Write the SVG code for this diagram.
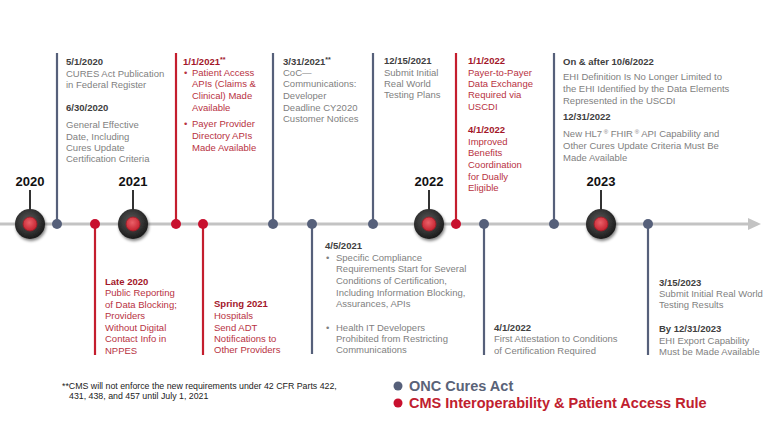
<svg xmlns="http://www.w3.org/2000/svg" width="777" height="437" viewBox="0 0 777 437">
<defs>
<radialGradient id="yg" cx="45%" cy="40%" r="60%">
<stop offset="0" stop-color="#5a5a5a"/>
<stop offset="0.7" stop-color="#2e2e2e"/>
<stop offset="1" stop-color="#1a1a1a"/>
</radialGradient>
<radialGradient id="rg" cx="45%" cy="40%" r="60%">
<stop offset="0" stop-color="#ea6068"/>
<stop offset="1" stop-color="#c4222f"/>
</radialGradient>
<filter id="sh" x="-50%" y="-50%" width="200%" height="200%">
<feGaussianBlur in="SourceAlpha" stdDeviation="1.5"/>
<feOffset dx="1" dy="2" result="b"/>
<feComponentTransfer><feFuncA type="linear" slope="0.5"/></feComponentTransfer>
<feMerge><feMergeNode/><feMergeNode in="SourceGraphic"/></feMerge>
</filter>
</defs>
<style>
text{font-family:"Liberation Sans",Arial,sans-serif;}
.t{font-size:9.5px;fill:#7f7f7f;}
.d{font-size:9.5px;font-weight:bold;fill:#404040;}
.rt{font-size:9.5px;fill:#b8323f;}
.rd{font-size:9.5px;font-weight:bold;fill:#a3172a;}
.yr{font-size:13px;font-weight:bold;fill:#111;text-anchor:middle;}
.bl{stroke:#56607a;stroke-width:2.2;fill:none;}
.rl{stroke:#c41e2e;stroke-width:2.2;fill:none;}
.bd{fill:#56607a;}
.rdot{fill:#c8102e;}
.stem{stroke:#333;stroke-width:2;}
.fn{font-size:8.8px;fill:#222;}
</style>
<rect width="777" height="437" fill="#fff"/>
<g id="connectors">
<line x1="0" y1="224" x2="750" y2="224" stroke="#c3c3c3" stroke-width="3"/>
<polygon points="748,218 761,224 748,230" fill="#c3c3c3"/>
<line class="bl" x1="57" y1="53" x2="57" y2="224"/>
<line class="rl" x1="95" y1="224" x2="95" y2="355"/>
<line class="rl" x1="176" y1="53" x2="176" y2="224"/>
<line class="rl" x1="203" y1="224" x2="203" y2="355"/>
<line class="bl" x1="273" y1="53" x2="273" y2="224"/>
<line class="bl" x1="312" y1="224" x2="312" y2="354"/>
<line class="bl" x1="373" y1="53" x2="373" y2="224"/>
<line class="rl" x1="456" y1="53" x2="456" y2="224"/>
<line class="bl" x1="484" y1="224" x2="484" y2="355"/>
<line class="bl" x1="554" y1="53" x2="554" y2="224"/>
<line class="bl" x1="648" y1="224" x2="648" y2="355"/>
<line class="stem" x1="30" y1="190" x2="30" y2="212"/>
<line class="stem" x1="133" y1="190" x2="133" y2="212"/>
<line class="stem" x1="429" y1="190" x2="429" y2="212"/>
<line class="stem" x1="601" y1="190" x2="601" y2="212"/>
</g>
<g id="dots">
<circle class="bd" cx="57" cy="224" r="5"/>
<circle class="rdot" cx="95" cy="224" r="5"/>
<circle class="rdot" cx="176" cy="224" r="5"/>
<circle class="rdot" cx="203" cy="224" r="5"/>
<circle class="bd" cx="273" cy="224" r="5"/>
<circle class="bd" cx="312" cy="224" r="5"/>
<circle class="bd" cx="373" cy="224" r="5"/>
<circle class="rdot" cx="456" cy="224" r="5"/>
<circle class="bd" cx="484" cy="224" r="5"/>
<circle class="bd" cx="554" cy="224" r="5"/>
<circle class="bd" cx="648" cy="224" r="5"/>
</g>
<g id="y2020">
<text class="yr" x="30" y="186">2020</text>
<circle cx="30" cy="224" r="15" fill="url(#yg)" filter="url(#sh)"/>
<circle cx="30" cy="224" r="7" fill="url(#rg)" stroke="#9e1a24" stroke-width="0.8"/>
</g>
<g id="y2021">
<text class="yr" x="133" y="186">2021</text>
<circle cx="133" cy="224" r="15" fill="url(#yg)" filter="url(#sh)"/>
<circle cx="133" cy="224" r="7" fill="url(#rg)" stroke="#9e1a24" stroke-width="0.8"/>
</g>
<g id="y2022">
<text class="yr" x="429" y="186">2022</text>
<circle cx="429" cy="224" r="15" fill="url(#yg)" filter="url(#sh)"/>
<circle cx="429" cy="224" r="7" fill="url(#rg)" stroke="#9e1a24" stroke-width="0.8"/>
</g>
<g id="y2023">
<text class="yr" x="601" y="186">2023</text>
<circle cx="601" cy="224" r="15" fill="url(#yg)" filter="url(#sh)"/>
<circle cx="601" cy="224" r="7" fill="url(#rg)" stroke="#9e1a24" stroke-width="0.8"/>
</g>
<g id="e2020">
<text class="d" x="66" y="65">5/1/2020</text>
<text class="t" x="66" y="77">CURES Act Publication</text>
<text class="t" x="66" y="88">in Federal Register</text>
<text class="d" x="66" y="111">6/30/2020</text>
<text class="t" x="66" y="128">General Effective</text>
<text class="t" x="66" y="140">Date, Including</text>
<text class="t" x="66" y="151">Cures Update</text>
<text class="t" x="66" y="162">Certification Criteria</text>
</g>
<g id="late2020">
<text class="rd" x="105" y="285">Late 2020</text>
<text class="rt" x="105" y="296">Public Reporting</text>
<text class="rt" x="105" y="308">of Data Blocking;</text>
<text class="rt" x="105" y="319">Providers</text>
<text class="rt" x="105" y="331">Without Digital</text>
<text class="rt" x="105" y="342">Contact Info in</text>
<text class="rt" x="105" y="354">NPPES</text>
</g>
<g id="e2021a">
<text class="rd" x="183" y="65">1/1/2021<tspan font-size="7" dy="-3">**</tspan></text>
<text class="rt" x="184" y="76">•</text>
<text class="rt" x="192" y="76">Patient Access</text>
<text class="rt" x="192" y="87">APIs (Claims &amp;</text>
<text class="rt" x="192" y="99">Clinical) Made</text>
<text class="rt" x="192" y="111">Available</text>
<text class="rt" x="184" y="127">•</text>
<text class="rt" x="192" y="127">Payer Provider</text>
<text class="rt" x="192" y="139">Directory APIs</text>
<text class="rt" x="192" y="151">Made Available</text>
</g>
<g id="spring2021">
<text class="rd" x="214" y="307">Spring 2021</text>
<text class="rt" x="214" y="319">Hospitals</text>
<text class="rt" x="214" y="331">Send ADT</text>
<text class="rt" x="214" y="342">Notifications to</text>
<text class="rt" x="214" y="353">Other Providers</text>
</g>
<g id="e2021b">
<text class="d" x="283" y="65">3/31/2021<tspan font-size="7" dy="-3">**</tspan></text>
<text class="t" x="283" y="76">CoC—</text>
<text class="t" x="283" y="87">Communications:</text>
<text class="t" x="283" y="99">Developer</text>
<text class="t" x="283" y="111">Deadline CY2020</text>
<text class="t" x="283" y="122">Customer Notices</text>
</g>
<g id="e2021c">
<text class="d" x="325" y="249">4/5/2021</text>
<text class="t" x="326" y="261">•</text>
<text class="t" x="336" y="261">Specific Compliance</text>
<text class="t" x="336" y="272">Requirements Start for Several</text>
<text class="t" x="336" y="284">Conditions of Certification,</text>
<text class="t" x="336" y="296">Including Information Blocking,</text>
<text class="t" x="336" y="307">Assurances, APIs</text>
<text class="t" x="326" y="331">•</text>
<text class="t" x="336" y="331">Health IT Developers</text>
<text class="t" x="336" y="342">Prohibited from Restricting</text>
<text class="t" x="336" y="353">Communications</text>
</g>
<g id="e2021d">
<text class="d" x="384" y="64">12/15/2021</text>
<text class="t" x="384" y="76">Submit Initial</text>
<text class="t" x="384" y="87">Real World</text>
<text class="t" x="384" y="98">Testing Plans</text>
</g>
<g id="e2022a">
<text class="rd" x="468" y="64">1/1/2022</text>
<text class="rt" x="468" y="76">Payer-to-Payer</text>
<text class="rt" x="468" y="87">Data Exchange</text>
<text class="rt" x="468" y="98">Required via</text>
<text class="rt" x="468" y="110">USCDI</text>
<text class="rd" x="468" y="133">4/1/2022</text>
<text class="rt" x="468" y="145">Improved</text>
<text class="rt" x="468" y="156">Benefits</text>
<text class="rt" x="468" y="168">Coordination</text>
<text class="rt" x="468" y="180">for Dually</text>
<text class="rt" x="468" y="191">Eligible</text>
</g>
<g id="e2022b">
<text class="d" x="494" y="331">4/1/2022</text>
<text class="t" x="494" y="342">First Attestation to Conditions</text>
<text class="t" x="494" y="354">of Certification Required</text>
</g>
<g id="e2022c">
<text class="d" x="563" y="65">On &amp; after 10/6/2022</text>
<text class="t" x="563" y="80">EHI Definition Is No Longer Limited to</text>
<text class="t" x="563" y="92">the EHI Identified by the Data Elements</text>
<text class="t" x="563" y="104">Represented in the USCDI</text>
<text class="d" x="563" y="120">12/31/2022</text>
<text class="t" x="563" y="137">New HL7<tspan font-size="6" dy="-3"> ®</tspan><tspan dy="3"> FHIR</tspan><tspan font-size="6" dy="-3"> ®</tspan><tspan dy="3"> API Capability and</tspan></text>
<text class="t" x="563" y="149">Other Cures Update Criteria Must Be</text>
<text class="t" x="563" y="161">Made Available</text>
</g>
<g id="e2023">
<text class="d" x="659" y="286">3/15/2023</text>
<text class="t" x="659" y="297">Submit Initial Real World</text>
<text class="t" x="659" y="308">Testing Results</text>
<text class="d" x="659" y="332">By 12/31/2023</text>
<text class="t" x="659" y="344">EHI Export Capability</text>
<text class="t" x="659" y="355">Must be Made Available</text>
</g>
<g id="footnote">
<text class="fn" x="62" y="389">**CMS will not enforce the new requirements under 42 CFR Parts 422,</text>
<text class="fn" x="69" y="399">431, 438, and 457 until July 1, 2021</text>
</g>
<g id="legend">
<circle cx="398" cy="386" r="4.5" fill="#56607a"/>
<text x="409" y="391" font-size="14.5" font-weight="bold" fill="#5a6378">ONC Cures Act</text>
<circle cx="398" cy="403" r="4.5" fill="#c8102e"/>
<text x="409" y="408" font-size="14.5" font-weight="bold" fill="#c0202e">CMS Interoperability &amp; Patient Access Rule</text>
</g>
</svg>
